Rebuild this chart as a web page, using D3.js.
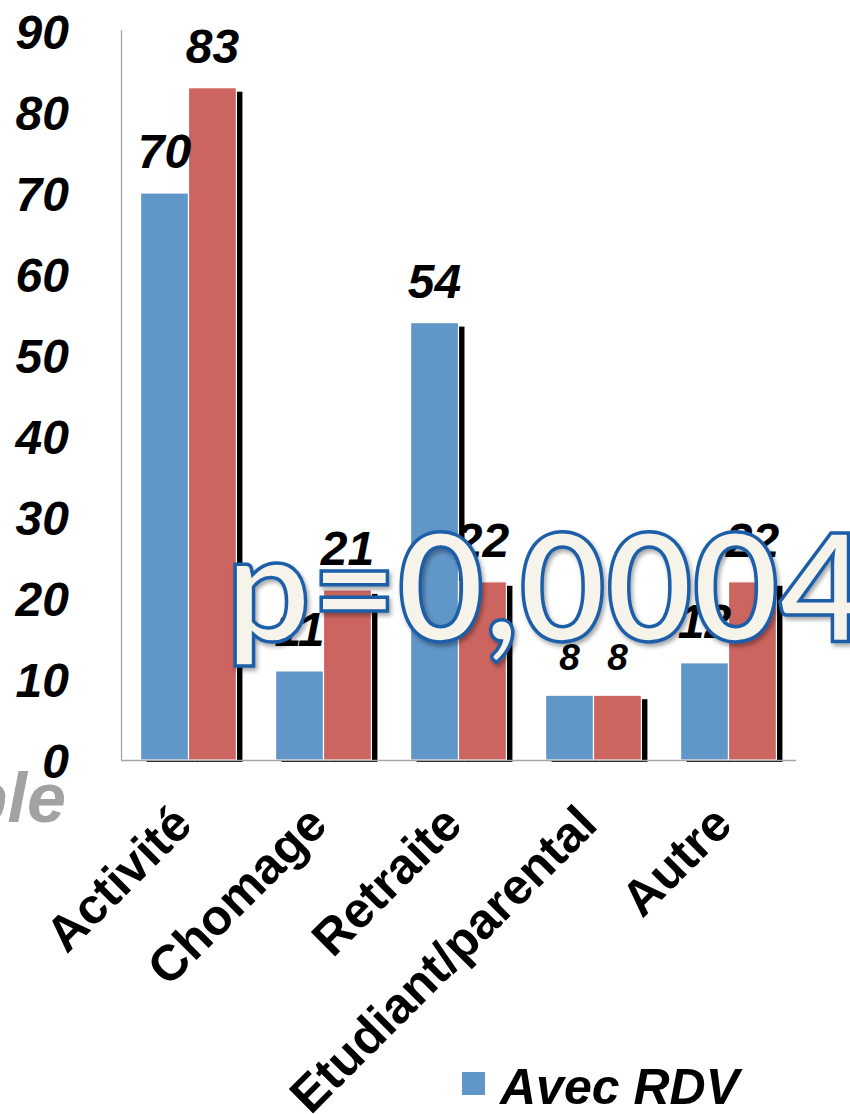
<!DOCTYPE html>
<html>
<head>
<meta charset="utf-8">
<script src="https://cdn.jsdelivr.net/npm/d3@7/dist/d3.min.js"></script>
<style>
  html, body { margin: 0; padding: 0; background: #fff; }
  svg { display: block; }
</style>
</head>
<body>
<svg id="chart" width="850" height="1114"></svg>
<script>
// ---- data ----
const categories = ["Activité", "Chomage", "Retraite", "Etudiant/parental", "Autre"];
const seriesNames = ["Avec RDV", "Sans RDV"];
const avecRDV = [70, 11, 54, 8, 12];
const sansRDV = [83, 21, 22, 8, 22];
const yTicks = [0, 10, 20, 30, 40, 50, 60, 70, 80, 90];
const pValueText = "p=0,0004";
const sideText = "ple";

// ---- styles ----
const colors = ["#6196c9", "#cc645f"];
const boldFont = "'Liberation Sans', Arial, sans-serif";

const svg = d3.select("#chart");

const x0 = d3.scaleBand().domain(categories).range([121, 796]).paddingInner(0.29).paddingOuter(0.145);
const x1 = d3.scaleBand().domain([0, 1]).range([0, x0.bandwidth()]).padding(0);
const y = d3.scaleLinear().domain([0, 90]).range([760, 31]);

const rows = categories.map((c, i) => ({ cat: c, vals: [avecRDV[i], sansRDV[i]] }));

const defs = svg.append("defs");
defs.append("clipPath").attr("id", "shadowClip")
  .append("rect").attr("x", 0).attr("y", 0).attr("width", 850).attr("height", 762);
const f = defs.append("filter").attr("id", "pshadow").attr("x", "-10%").attr("y", "-10%").attr("width", "130%").attr("height", "130%");
f.append("feDropShadow").attr("dx", 2).attr("dy", 3).attr("stdDeviation", 2).attr("flood-color", "#000").attr("flood-opacity", 0.35);

// side text (partially off canvas)
svg.append("text")
  .attr("x", 66).attr("y", 822)
  .attr("text-anchor", "end")
  .attr("font-family", boldFont).attr("font-weight", "bold").attr("font-style", "italic")
  .attr("font-size", 70).attr("fill", "#a2a2a2")
  .text(sideText);

// y tick labels
svg.append("g").selectAll("text").data(yTicks).join("text")
  .attr("x", 69).attr("y", d => y(d) + 18)
  .attr("text-anchor", "end")
  .attr("font-family", boldFont).attr("font-weight", "bold").attr("font-style", "italic")
  .attr("font-size", 48).attr("fill", "#000")
  .text(d => d);

// bars: per series, shadow then bar
const groups = svg.append("g");
[0, 1].forEach(s => {
  const g = groups.append("g");
  g.append("g").attr("clip-path", "url(#shadowClip)").selectAll("rect").data(rows).join("rect")
    .attr("x", d => x0(d.cat) + x1(s) + 6)
    .attr("y", d => y(d.vals[s]) + 4)
    .attr("width", x1.bandwidth())
    .attr("height", d => y(0) - y(d.vals[s]))
    .attr("fill", "#000");
  g.append("g").selectAll("rect").data(rows).join("rect")
    .attr("x", d => x0(d.cat) + x1(s))
    .attr("y", d => y(d.vals[s]))
    .attr("width", x1.bandwidth())
    .attr("height", d => y(0) - y(d.vals[s]))
    .attr("fill", colors[s])
    .attr("stroke", "#ffffff").attr("stroke-width", 1.2);
});

// axes lines
svg.append("line").attr("x1", 121.5).attr("x2", 121.5).attr("y1", y(90) - 1).attr("y2", y(0))
  .attr("stroke", "#a6a6a6").attr("stroke-width", 1.3);
svg.append("line").attr("x1", 121).attr("x2", 796).attr("y1", y(0) + 0.5).attr("y2", y(0) + 0.5)
  .attr("stroke", "#a6a6a6").attr("stroke-width", 1.3);

// value labels
const labels = [];
rows.forEach(r => [0, 1].forEach(s => labels.push({ cat: r.cat, s: s, v: r.vals[s] })));
svg.append("g").selectAll("text").data(labels).join("text")
  .attr("x", d => x0(d.cat) + x1(d.s) + x1.bandwidth() / 2)
  .attr("y", d => y(d.v) - 25)
  .attr("text-anchor", "middle")
  .attr("font-family", boldFont).attr("font-weight", "bold").attr("font-style", "italic")
  .attr("font-size", d => d.v < 10 ? 37 : 48).attr("fill", "#000")
  .text(d => d.v);

// category labels
svg.append("g").selectAll("text").data(categories).join("text")
  .attr("transform", d => `translate(${x0(d) + x0.bandwidth() / 2 + 6},827) rotate(-45)`)
  .attr("text-anchor", "end")
  .attr("font-family", boldFont).attr("font-weight", "bold")
  .attr("font-size", 50).attr("fill", "#000")
  .text(d => d);

// legend
const leg = svg.append("g");
leg.append("rect").attr("x", 462).attr("y", 1072).attr("width", 23).attr("height", 23).attr("fill", colors[0]);
leg.append("text").attr("x", 500).attr("y", 1104)
  .attr("font-family", boldFont).attr("font-weight", "bold").attr("font-style", "italic")
  .attr("font-size", 50).attr("fill", "#000")
  .text(seriesNames[0]);

// p-value overlay
svg.append("text")
  .attr("x", 226).attr("y", 641)
  .attr("font-family", "Lato, 'Open Sans', sans-serif")
  .attr("font-weight", "bold")
  .attr("font-size", 150)
  .attr("textLength", 640).attr("lengthAdjust", "spacingAndGlyphs")
  .attr("fill", "#f5f3ea")
  .attr("stroke", "#1c5ea8").attr("stroke-width", 3.5)
  .attr("filter", "url(#pshadow)")
  .text(pValueText);
</script>
</body>
</html>
